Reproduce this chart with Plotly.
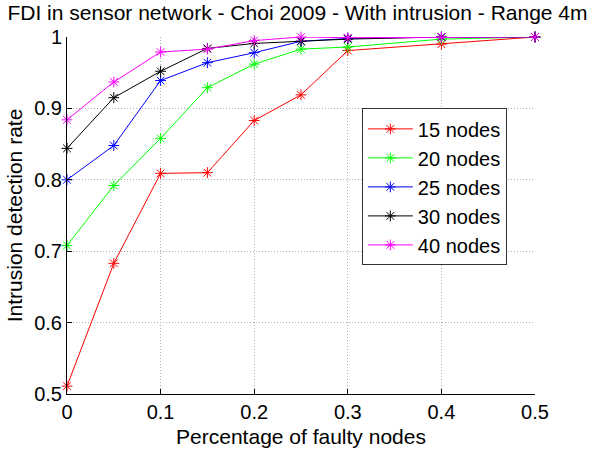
import plotly.graph_objects as go

x_vals = [0, 0.05, 0.1, 0.15, 0.2, 0.25, 0.3, 0.4, 0.5]
series_names = ["15 nodes", "20 nodes", "25 nodes", "30 nodes", "40 nodes"]
nodes15 = [0.511, 0.683, 0.809, 0.810, 0.883, 0.919, 0.981, 0.990, 1.0]
nodes20 = [0.708, 0.792, 0.858, 0.929, 0.962, 0.983, 0.986, 0.997, 1.0]
nodes25 = [0.800, 0.848, 0.939, 0.964, 0.978, 0.994, 0.998, 1.0, 1.0]
nodes30 = [0.844, 0.915, 0.952, 0.984, 0.991, 0.994, 0.997, 1.0, 1.0]
nodes40 = [0.884, 0.937, 0.979, 0.983, 0.995, 1.0, 0.999, 1.0, 1.0]
colors = ["#ff0000", "#00ff00", "#0000ff", "#000000", "#ff00ff"]
x_ticks = [0, 0.1, 0.2, 0.3, 0.4, 0.5]
x_ticklabels = ["0", "0.1", "0.2", "0.3", "0.4", "0.5"]
y_ticks = [0.5, 0.6, 0.7, 0.8, 0.9, 1.0]
y_ticklabels = ["0.5", "0.6", "0.7", "0.8", "0.9", "1"]

FONT = "Liberation Sans, Arial, sans-serif"

fig = go.Figure()
for name, ys, c in zip(series_names, [nodes15, nodes20, nodes25, nodes30, nodes40], colors):
    fig.add_trace(go.Scatter(
        x=x_vals, y=ys, name=name, mode="lines+markers",
        line=dict(color=c, width=1),
        marker=dict(symbol="asterisk-open", size=9, color=c, line=dict(color=c, width=1)),
        cliponaxis=False,
    ))

fig.update_layout(
    width=595, height=457,
    margin=dict(l=67, r=60, t=37, b=55),
    paper_bgcolor="white", plot_bgcolor="white",
    font=dict(family=FONT, size=20, color="black"),
    title=dict(text="FDI in sensor network - Choi 2009 - With intrusion - Range 4m",
               x=0.5, xref="container", xanchor="center",
               y=0.972, yref="container", yanchor="middle",
               font=dict(family=FONT, size=21, color="black")),
    showlegend=True,
    legend=dict(x=0.63, y=0.8, xanchor="left", yanchor="top",
                bgcolor="white", bordercolor="#333333", borderwidth=1,
                font=dict(family=FONT, size=20, color="black"),
                tracegroupgap=0, itemwidth=45),
    xaxis=dict(range=[0, 0.5], tickvals=x_ticks, ticktext=x_ticklabels,
               showgrid=True, gridcolor="#b0b0b0", griddash="1px,2px", gridwidth=1,
               zeroline=False, showline=True, linecolor="black", linewidth=1,
               ticks="inside", ticklen=5, tickcolor="black",
               title=dict(text="Percentage of faulty nodes", standoff=7,
                          font=dict(family=FONT, size=21))),
    yaxis=dict(range=[0.5, 1.0], tickvals=y_ticks, ticktext=y_ticklabels,
               showgrid=True, gridcolor="#b0b0b0", griddash="1px,2px", gridwidth=1,
               zeroline=False, showline=True, linecolor="black", linewidth=1,
               ticks="inside", ticklen=5, tickcolor="black",
               title=dict(text="Intrusion detection rate", standoff=5,
                          font=dict(family=FONT, size=21))),
)

fig.write_html("out.html")
